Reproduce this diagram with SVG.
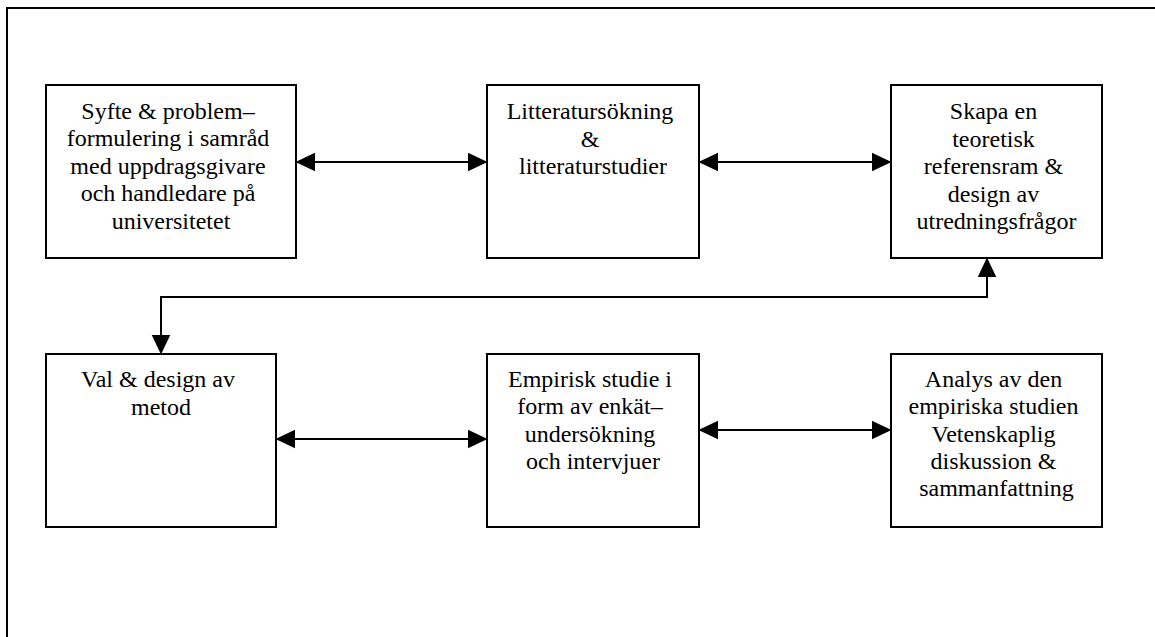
<svg xmlns="http://www.w3.org/2000/svg" width="1155" height="637" viewBox="0 0 1155 637">
  <style>
    .frame { fill: none; stroke: #000; stroke-width: 2; }
    .box { fill: #fff; stroke: #000; stroke-width: 2; }
    .label { font-family: "Liberation Serif", "Times New Roman", serif; font-size: 24px; fill: #000; text-anchor: middle; }
    .link { fill: none; stroke: #000; stroke-width: 2; marker-start: url(#head); marker-end: url(#head); }
  </style>
  <defs>
    <!-- filled arrowhead, tip placed on the box edge -->
    <marker id="head" markerUnits="userSpaceOnUse" markerWidth="20" markerHeight="20" viewBox="0 0 19 18" refX="9" refY="9" orient="auto-start-reverse">
      <path d="M0,0 L19,9 L0,18 Z" fill="#000"/>
    </marker>
  </defs>

  <rect width="1155" height="637" fill="#fff"/>

  <!-- outer frame: top and left edges -->
  <path class="frame" d="M7,640 V8 H1160"/>

  <g id="connectors">
    <path class="link" d="M306,162 H477"/>
    <path class="link" d="M709,162 H881"/>
    <path class="link" d="M987,268 V297 H161 V344"/>
    <path class="link" d="M286,439 H477"/>
    <path class="link" d="M709,430 H881"/>
  </g>

  <g id="node-syfte">
    <rect class="box" x="46" y="85" width="250" height="173"/>
    <text class="label">
      <tspan x="171" y="118.5">Syfte &amp; problem–</tspan>
      <tspan x="171" y="146">formulering i samråd</tspan>
      <tspan x="171" y="173.5">med uppdragsgivare</tspan>
      <tspan x="171" y="201">och handledare på</tspan>
      <tspan x="171" y="228.5">universitetet</tspan>
    </text>
  </g>

  <g id="node-litteratur">
    <rect class="box" x="487" y="85" width="212" height="173"/>
    <text class="label">
      <tspan x="593" y="119">Litteratursökning</tspan>
      <tspan x="593" y="146.5">&amp;</tspan>
      <tspan x="593" y="174">litteraturstudier</tspan>
    </text>
  </g>

  <g id="node-referensram">
    <rect class="box" x="891" y="85" width="211" height="173"/>
    <text class="label">
      <tspan x="996.5" y="119">Skapa en</tspan>
      <tspan x="996.5" y="146.5">teoretisk</tspan>
      <tspan x="996.5" y="174">referensram &amp;</tspan>
      <tspan x="996.5" y="201.5">design av</tspan>
      <tspan x="996.5" y="229">utredningsfrågor</tspan>
    </text>
  </g>

  <g id="node-metod">
    <rect class="box" x="46" y="354" width="230" height="173"/>
    <text class="label">
      <tspan x="161" y="387">Val &amp; design av</tspan>
      <tspan x="161" y="414.5">metod</tspan>
    </text>
  </g>

  <g id="node-empiri">
    <rect class="box" x="487" y="354" width="212" height="173"/>
    <text class="label">
      <tspan x="593" y="387">Empirisk studie i</tspan>
      <tspan x="593" y="414">form av enkät–</tspan>
      <tspan x="593" y="441.5">undersökning</tspan>
      <tspan x="593" y="469">och intervjuer</tspan>
    </text>
  </g>

  <g id="node-analys">
    <rect class="box" x="891" y="354" width="211" height="173"/>
    <text class="label">
      <tspan x="996.5" y="387">Analys av den</tspan>
      <tspan x="996.5" y="414">empiriska studien</tspan>
      <tspan x="996.5" y="441.5">Vetenskaplig</tspan>
      <tspan x="996.5" y="469">diskussion &amp;</tspan>
      <tspan x="996.5" y="496">sammanfattning</tspan>
    </text>
  </g>
</svg>
